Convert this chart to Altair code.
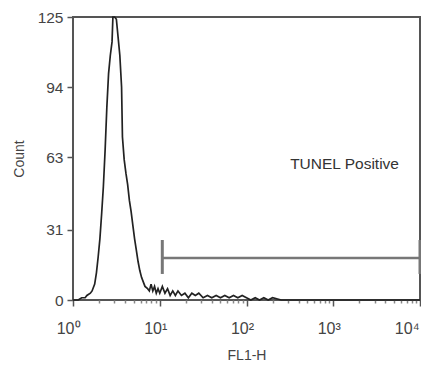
import altair as alt
import pandas as pd

# Histogram: channel position in decades (log10 FL1-H) and count
hist_log = [0.00, 0.06, 0.10, 0.14, 0.16, 0.20, 0.22, 0.25, 0.27, 0.29, 0.31, 0.33, 0.35,
            0.37, 0.39, 0.41, 0.43, 0.45, 0.46, 0.48, 0.50, 0.52, 0.54, 0.56, 0.57, 0.59,
            0.61, 0.63, 0.65, 0.67, 0.69, 0.71, 0.73, 0.75, 0.77, 0.79, 0.81, 0.83, 0.86,
            0.88, 0.90, 0.92, 0.94, 0.96, 0.98, 1.00, 1.03, 1.06, 1.09, 1.12, 1.15, 1.18,
            1.21, 1.25, 1.29, 1.33, 1.37, 1.41, 1.45, 1.50, 1.55, 1.60, 1.65, 1.70, 1.75,
            1.80, 1.85, 1.90, 1.95, 2.00, 2.05, 2.10, 2.15, 2.20, 2.25, 2.30, 2.40, 2.50,
            3.00, 3.50, 4.00]
hist_count = [0, 0, 1, 1, 2, 3, 4, 7, 12, 19, 27, 38, 50,
              66, 85, 100, 108, 114, 125, 125, 124, 116, 108, 94, 72, 62,
              56, 51, 44, 39, 33, 27, 22, 17, 13, 10, 8, 6, 5,
              4, 7, 4, 6, 3, 5, 3, 6, 3, 5, 2, 4, 2,
              4, 2, 3, 1, 3, 2, 3, 1, 2, 1, 2, 1, 2,
              1, 2, 1, 2, 1, 0, 1, 0, 1, 0, 1, 0, 0,
              0, 0, 0]

# Gate marker (TUNEL positive region)
gate_start = 10.7
gate_end = 10000
gate_level = 18.5
gate_cap_low = 11.5
gate_cap_high = 26.5

label_text = ["TUNEL Positive"]
label_x = [1350]
label_y = [60]

x_major = [1, 10, 100, 1000, 10000]
x_minor = [m * d for d in [1, 10, 100, 1000] for m in range(2, 10)]
y_major = [0, 31, 63, 94, 125]
y_minor = [7.8, 15.6, 23.4, 39.1, 46.9, 54.7, 70.3, 78.1, 85.9, 101.6, 109.4, 117.2]

hist = pd.DataFrame({"fl1": [10 ** v for v in hist_log], "count": hist_count})
gate = pd.DataFrame({"x": [gate_start], "x2": [gate_end], "y": [gate_level]})
caps = pd.DataFrame({"x": [gate_start, gate_end], "y": [gate_cap_low] * 2, "y2": [gate_cap_high] * 2})
labels = pd.DataFrame({"t": label_text, "x": label_x, "y": label_y})

xscale = alt.Scale(type="log", domain=[1, 10000], nice=False)
yscale = alt.Scale(domain=[0, 125], nice=False)

xm = "[" + ",".join(str(v) for v in x_major) + "]"
ym = "[" + ",".join(str(v) for v in y_major) + "]"
x_is_major = f"indexof({xm}, datum.value) >= 0"
y_is_major = f"indexof({ym}, datum.value) >= 0"

sup = ("{'1':'10\u2070','10':'10\u00b9','100':'10\u00b2','1000':'10\u00b3',"
       "'10000':'10\u2074'}[toString(datum.value)]")

x_axis = alt.Axis(orient="bottom", values=x_major + x_minor,
                  labelExpr=f"{x_is_major} ? {sup} : ''", labelOverlap=False,
                  labelAlign="right",
                  labelOffset=alt.ExprRef(expr=f"datum.value == {x_major[-1]} ? -1 : 7"),
                  title="FL1-H", grid=False, domain=False,
                  tickSize=alt.ExprRef(expr=f"{x_is_major} ? 6 : 3"),
                  tickColor=alt.ExprRef(expr=f"{x_is_major} ? '#555' : '#888'"),
                  tickWidth=1.5, labelFontSize=16,
                  labelColor="#444", labelPadding=14, titleFontSize=14, titleColor="#444",
                  titleFontWeight="normal", titlePadding=12, labelFont="Liberation Sans",
                  titleFont="Liberation Sans", labelFlush=False)
y_axis = alt.Axis(orient="left", values=y_major + y_minor,
                  labelExpr=f"{y_is_major} ? datum.label : ''", labelOverlap=False,
                  title="Count", grid=False, domain=False,
                  tickSize=alt.ExprRef(expr=f"{y_is_major} ? 6 : 3"),
                  tickColor=alt.ExprRef(expr=f"{y_is_major} ? '#555' : '#888'"),
                  tickWidth=1.5, labelFontSize=15.5,
                  labelColor="#444", labelPadding=4, titleFontSize=14, titleColor="#444",
                  titleFontWeight="normal", titlePadding=11, labelFont="Liberation Sans",
                  titleFont="Liberation Sans")

line = alt.Chart(hist).mark_line(color="#222", strokeWidth=1.7).encode(
    x=alt.X("fl1:Q", scale=xscale, axis=x_axis),
    y=alt.Y("count:Q", scale=yscale, axis=y_axis),
)

gate_line = alt.Chart(gate).mark_rule(color="#777", strokeWidth=2.5).encode(
    x=alt.X("x:Q", scale=xscale), x2="x2:Q", y=alt.Y("y:Q", scale=yscale))
gate_caps = alt.Chart(caps).mark_rule(color="#777", strokeWidth=3).encode(
    x=alt.X("x:Q", scale=xscale), y=alt.Y("y:Q", scale=yscale), y2="y2:Q")

text = alt.Chart(labels).mark_text(fontSize=15.5, color="#333", font="Liberation Sans").encode(
    x=alt.X("x:Q", scale=xscale), y=alt.Y("y:Q", scale=yscale), text="t:N")

chart = alt.layer(line, gate_line, gate_caps, text).properties(
    width=347, height=283, autosize="none",
    padding={"left": 65, "top": 9, "right": 1, "bottom": 66},
).configure_view(stroke="#555", strokeWidth=2)

chart.save("out.html", embed_options={"renderer": "svg", "actions": False})
